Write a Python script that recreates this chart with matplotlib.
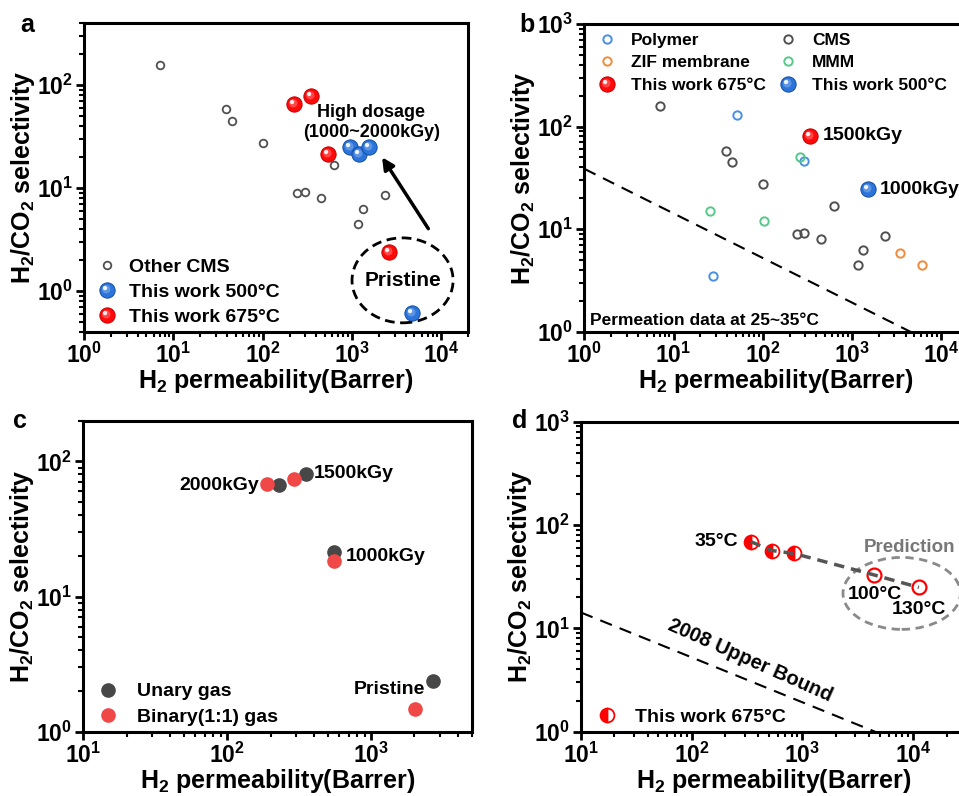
import matplotlib
matplotlib.use('Agg')
import matplotlib.pyplot as plt
from matplotlib.markers import MarkerStyle
from matplotlib.transforms import Affine2D
from matplotlib.patches import Ellipse
from matplotlib.legend_handler import HandlerTuple
from matplotlib.ticker import NullFormatter
import numpy as np

plt.rcParams['font.family'] = ['Liberation Sans', 'DejaVu Sans']
plt.rcParams['font.weight'] = 'bold'
plt.rcParams['axes.labelweight'] = 'bold'
plt.rcParams['mathtext.fontset'] = 'custom'
plt.rcParams['mathtext.rm'] = 'Liberation Sans:bold'
plt.rcParams['mathtext.bf'] = 'Liberation Sans:bold'
plt.rcParams['mathtext.it'] = 'Liberation Sans:bold'
plt.rcParams['mathtext.default'] = 'rm'

# ---- data ----
cms_perm = [7.1, 38.6, 45.6, 100, 632, 245, 294, 452, 2350, 1340, 1180]
cms_sel = [158, 58, 44.8, 27.5, 16.7, 8.95, 9.1, 8.0, 8.6, 6.2, 4.5]

a500_perm = [950, 1200, 1550, 4650]
a500_sel = [24.8, 21.4, 24.8, 0.61]
a675_perm = [223, 344, 542, 2600]
a675_sel = [66, 79, 21.2, 2.39]

polymer_perm = [51, 293, 27.5]
polymer_sel = [130, 46.5, 3.46]
zif_perm = [3470, 6070]
zif_sel = [5.9, 4.5]
mmm_perm = [264, 25.5, 103]
mmm_sel = [50, 14.9, 11.9]
b675_perm = [340]
b675_sel = [81]
b500_perm = [1530]
b500_sel = [24.6]

dose_labels = ['Pristine', '1000kGy', '1500kGy', '2000kGy']
unary_perm = [2690, 555, 352, 229]
unary_sel = [2.37, 21.3, 81, 67]
binary_perm = [2005, 555, 292, 190]
binary_sel = [1.47, 18.2, 74, 68]

meas_temps = ['35°C', '', '']
meas_perm = [341, 536, 841]
meas_sel = [69, 56.5, 53]
pred_temps = ['100°C', '130°C']
pred_perm = [4470, 11250]
pred_sel = [32.8, 24.9]

# Robeson 2008 H2/CO2 upper bound: P = k * alpha^n
ub_k = 4515.0
ub_n = -2.302

RED, RED_E = '#ff0a0a', '#c40000'
BLUE, BLUE_E = '#2a74dc', '#164c9e'


def ball(ax, x, y, color, edge, ms=11, z=5):
    base = ax.plot(x, y, ls='none', marker='o', ms=ms, mfc=color, mec=edge,
                   mew=0.7, zorder=z)[0]
    mid = MarkerStyle('o', transform=Affine2D().scale(0.55).translate(-0.08, 0.08))
    m = ax.plot(x, y, ls='none', marker=mid, ms=ms, mfc='white', mec='none',
                alpha=0.25, zorder=z + 0.1)[0]
    hl = MarkerStyle('o', transform=Affine2D().scale(0.28).translate(-0.16, 0.16))
    h = ax.plot(x, y, ls='none', marker=hl, ms=ms, mfc='white', mec='none',
                alpha=0.9, zorder=z + 0.2)[0]
    return (base, m, h)


def style(ax, xlim, ylim, tsize=16.5, ypad=0):
    ax.set_xscale('log')
    ax.set_yscale('log')
    ax.set_xlim(*xlim)
    ax.set_ylim(*ylim)
    for s in ax.spines.values():
        s.set_linewidth(2.2)
    ax.tick_params(which='major', direction='out', length=6, width=2,
                   labelsize=tsize, top=False, right=False, pad=2)
    ax.tick_params(which='minor', direction='out', length=3.5, width=1.5,
                   top=False, right=False)
    ax.xaxis.set_minor_formatter(NullFormatter())
    ax.yaxis.set_minor_formatter(NullFormatter())
    ax.set_xlabel('H$_2$ permeability(Barrer)', fontsize=18, labelpad=-1)
    ax.set_ylabel('H$_2$/CO$_2$ selectivity', fontsize=18, labelpad=ypad)


fig = plt.figure(figsize=(9.59, 7.96), dpi=100)

# ---------------- a ----------------
ax = fig.add_axes([0.0876, 0.583, 0.4007, 0.388])
style(ax, (1, 2e4), (0.4, 400), ypad=0)
h_cms = ax.plot(cms_perm, cms_sel, ls='none', marker='o', ms=5.5, mfc='none',
                mec='#505050', mew=1.3, zorder=3)[0]
h500 = ball(ax, a500_perm, a500_sel, BLUE, BLUE_E)
h675 = ball(ax, a675_perm, a675_sel, RED, RED_E)
ax.text(1650, 43, 'High dosage\n(1000~2000kGy)', ha='center', va='center',
        fontsize=13, linespacing=1.2)
ax.annotate('', xy=(2170, 19.9), xytext=(7140, 4.03),
            arrowprops=dict(arrowstyle='-|>,head_length=0.7,head_width=0.35',
                            lw=2.5, color='k', shrinkA=0, shrinkB=0))
ax.add_patch(Ellipse((0.829, 0.167), 0.263, 0.275, transform=ax.transAxes,
                     fill=False, ls=(0, (3.5, 2)), lw=2, ec='k'))
ax.text(0.83, 0.167, 'Pristine', transform=ax.transAxes, ha='center',
        va='center', fontsize=15)
ax.legend([h_cms, h500, h675], ['Other CMS', 'This work 500°C', 'This work 675°C'],
          handler_map={tuple: HandlerTuple(ndivide=1)}, loc='lower left',
          bbox_to_anchor=(0.02, 0.0), frameon=False, fontsize=14,
          handlelength=1.0, handletextpad=0.6, labelspacing=0.38,
          borderaxespad=0.1, borderpad=0.2)
fig.text(0.028, 0.968, 'a', fontsize=18, ha='center', va='center')

# ---------------- b ----------------
ax = fig.add_axes([0.6093, 0.5833, 0.4, 0.3866])
style(ax, (1, 2e4), (1, 1000))
ub_x = np.logspace(0, np.log10(2e4), 50)
ax.plot(ub_x, (ub_x / ub_k) ** (1 / ub_n), ls=(0, (6, 4)), color='k', lw=1.5, zorder=2)
hp = ax.plot(polymer_perm, polymer_sel, ls='none', marker='o', ms=6, mfc='none',
             mec='#4a8fe6', mew=1.4, zorder=3)[0]
hz = ax.plot(zif_perm, zif_sel, ls='none', marker='o', ms=6, mfc='none',
             mec='#f28a3c', mew=1.4, zorder=3)[0]
hm = ax.plot(mmm_perm, mmm_sel, ls='none', marker='o', ms=6, mfc='none',
             mec='#55c98a', mew=1.4, zorder=3)[0]
hc = ax.plot(cms_perm, cms_sel, ls='none', marker='o', ms=6, mfc='none',
             mec='#505050', mew=1.4, zorder=3)[0]
hb675 = ball(ax, b675_perm, b675_sel, RED, RED_E)
hb500 = ball(ax, b500_perm, b500_sel, BLUE, BLUE_E)
ax.annotate('1500kGy', (b675_perm[0], b675_sel[0]), xytext=(9, 0),
            textcoords='offset points', ha='left', va='center', fontsize=14)
ax.annotate('1000kGy', (b500_perm[0], b500_sel[0]), xytext=(8, 0),
            textcoords='offset points', ha='left', va='center', fontsize=14)
ax.text(0.015, 0.012, 'Permeation data at 25~35°C', transform=ax.transAxes,
        ha='left', va='bottom', fontsize=12.5)
ax.legend([hp, hz, hb675, hc, hm, hb500],
          ['Polymer', 'ZIF membrane', 'This work 675°C', 'CMS', 'MMM', 'This work 500°C'],
          handler_map={tuple: HandlerTuple(ndivide=1)}, ncol=2, loc='upper left',
          frameon=False, fontsize=12.5, handlelength=1.6, handletextpad=0.6,
          labelspacing=0.42, columnspacing=0.45, borderaxespad=0.2, borderpad=0.3)
fig.text(0.55, 0.968, 'b', fontsize=18, ha='center', va='center')

# ---------------- c ----------------
ax = fig.add_axes([0.0869, 0.0808, 0.4050, 0.3907])
style(ax, (10, 5000), (1, 200))
hu = ax.plot(unary_perm, unary_sel, ls='none', marker='o', ms=9.5, mfc='#474747',
             mec='#474747', zorder=3)[0]
hbn = ax.plot(binary_perm, binary_sel, ls='none', marker='o', ms=9.5, mfc='#f04747',
              mec='#f04747', zorder=4)[0]
c_offsets = {'Pristine': ((-6, -6), 'right', unary_perm[0], unary_sel[0]),
             '1000kGy': ((8, -3), 'left', unary_perm[1], unary_sel[1]),
             '1500kGy': ((6, 0), 'left', unary_perm[2], unary_sel[2]),
             '2000kGy': ((-6, -1), 'right', binary_perm[3], binary_sel[3])}
for lab in dose_labels:
    off, ha, px, py = c_offsets[lab]
    ax.annotate(lab, (px, py), xytext=off, textcoords='offset points', ha=ha,
                va='center', fontsize=14)
ax.legend([hu, hbn], ['Unary gas', 'Binary(1:1) gas'], loc='lower left',
          bbox_to_anchor=(0.023, 0.0), frameon=False, fontsize=14,
          handlelength=1.0, handletextpad=1.0, labelspacing=0.4,
          borderaxespad=0.1, borderpad=0.2)
fig.text(0.021, 0.471, 'c', fontsize=18, ha='center', va='center')

# ---------------- d ----------------
ax = fig.add_axes([0.6058, 0.0808, 0.4015, 0.3895])
style(ax, (10, 3e4), (1, 1000))
ub_x = np.logspace(1, np.log10(3e4), 50)
ax.plot(ub_x, (ub_x / ub_k) ** (1 / ub_n), ls=(0, (6, 4)), color='k', lw=1.5, zorder=2)
ax.text(335, 4.9, '2008 Upper Bound', rotation=-24, ha='center', va='center',
        fontsize=14.5, rotation_mode='anchor')
trend_x = meas_perm + pred_perm
trend_y = meas_sel + pred_sel
ax.plot(trend_x, trend_y, ls=(0, (3, 2)), color='#555555', lw=2.5, zorder=4)
hd = ax.plot(meas_perm, meas_sel, ls='none', marker='o', ms=10, fillstyle='left',
             mfc='#ff0000', mfcalt='white', mec='#ff0000', mew=1.3, zorder=3)[0]
ax.plot(pred_perm, pred_sel, ls='none', marker='o', ms=10, mfc='none',
        mec='#ff0000', mew=1.6, zorder=3)
ax.annotate(meas_temps[0], (meas_perm[0], meas_sel[0]), xytext=(-9, 0),
            textcoords='offset points', ha='right', va='center', fontsize=14)
for t, px, py, dy in zip(pred_temps, pred_perm, pred_sel, [-14, -16]):
    ax.annotate(t, (px, py), xytext=(0, dy), textcoords='offset points',
                ha='center', va='center', fontsize=14)
ax.add_patch(Ellipse((0.833, 0.446), 0.305, 0.232, transform=ax.transAxes,
                     fill=False, ls=(0, (3, 2)), lw=2, ec='#8a8a8a'))
ax.text(0.852, 0.593, 'Prediction', transform=ax.transAxes, ha='center',
        va='center', fontsize=13.5, color='#777777')
ax.legend([hd], ['This work 675°C'], loc='lower left', bbox_to_anchor=(0.013, 0.0),
          frameon=False, fontsize=14, handlelength=1.6, handletextpad=0.6,
          borderaxespad=0.1, borderpad=0.2)
fig.text(0.542, 0.471, 'd', fontsize=18, ha='center', va='center')

plt.savefig('out.png', dpi=100)
